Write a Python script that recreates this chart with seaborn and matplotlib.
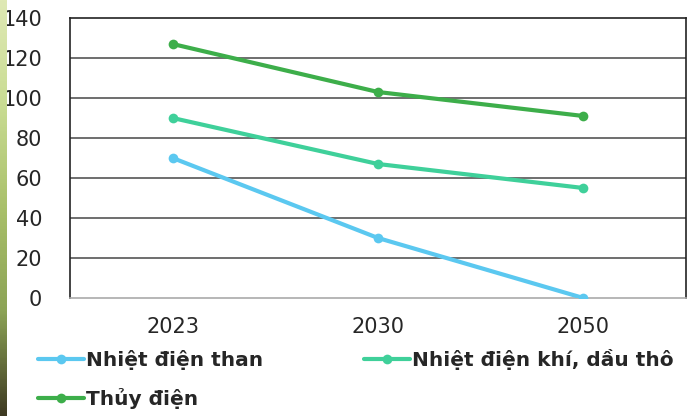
import numpy as np
import pandas as pd
import matplotlib
matplotlib.use('Agg')
import matplotlib.pyplot as plt
import seaborn as sns
from matplotlib.colors import LinearSegmentedColormap

years = ['2023', '2030', '2050']
series_names = ['Nhiệt điện than', 'Nhiệt điện khí, dầu thô', 'Thủy điện']
than = [70, 30, 0]
khi_dau = [90, 67, 55]
thuy_dien = [127, 103, 91]
colors = ['#5BC8F0', '#3FD09A', '#3DAE4A']
yticks = [0, 20, 40, 60, 80, 100, 120, 140]

df = pd.DataFrame({
    'year': years * 3,
    'value': than + khi_dau + thuy_dien,
    'series': [series_names[0]] * 3 + [series_names[1]] * 3 + [series_names[2]] * 3,
})

sns.set_style('white')
plt.rcParams['font.family'] = ['DejaVu Sans']

fig = plt.figure(figsize=(6.89, 4.16), dpi=100)
ax = fig.add_axes([70 / 689, 1 - 298 / 416, 616 / 689, 280 / 416])

sns.lineplot(data=df, x='year', y='value', hue='series', hue_order=series_names,
             palette=colors, marker='o', markersize=7, markeredgewidth=0,
             linewidth=3, ax=ax, zorder=3, legend=False)

ax.set_xlim(-0.5, 2.5)
ax.set_ylim(0, 140)
ax.set_yticks(yticks)
ax.set_yticklabels([str(v) for v in yticks], fontsize=15)
ax.set_xticks(range(len(years)))
ax.set_xticklabels(years, fontsize=15)
ax.tick_params(axis='y', length=0, pad=20)
ax.tick_params(axis='x', length=0, pad=14)
ax.set_xlabel('')
ax.set_ylabel('')
for v in yticks[1:-1]:
    ax.axhline(v, color='#555555', linewidth=1.2, zorder=1)
for side in ['top', 'right', 'left']:
    ax.spines[side].set_color('#222222')
    ax.spines[side].set_linewidth(1.2)
ax.spines['bottom'].set_color('#aaaaaa')
ax.spines['bottom'].set_linewidth(1.2)

# legend: rows filled as (than, khi) / (thuy)
order = [0, 2, 1]
handles = [plt.Line2D([0], [0], color=colors[i], linewidth=3, marker='o', markersize=7,
                      markeredgewidth=0) for i in order]
labels = [series_names[i] for i in order]
fig.legend(handles, labels, loc='upper left', bbox_to_anchor=(38 / 689, 1 - 349 / 416),
           ncol=2, frameon=False, prop={'weight': 'bold', 'size': 14.5},
           handlelength=2.3, handletextpad=0.1, columnspacing=5.0, labelspacing=0.9,
           borderaxespad=0, borderpad=0)

# decorative strip at left edge
strip_ax = fig.add_axes([0, 0, 7 / 689, 1])
cmap = LinearSegmentedColormap.from_list('strip', ['#dfe9b4', '#c9dc93', '#a9c06a', '#8ca356', '#3e3a22'])
strip_ax.imshow(np.linspace(0, 1, 200).reshape(-1, 1), aspect='auto', cmap=cmap)
strip_ax.axis('off')

fig.savefig('out.png', dpi=100)
